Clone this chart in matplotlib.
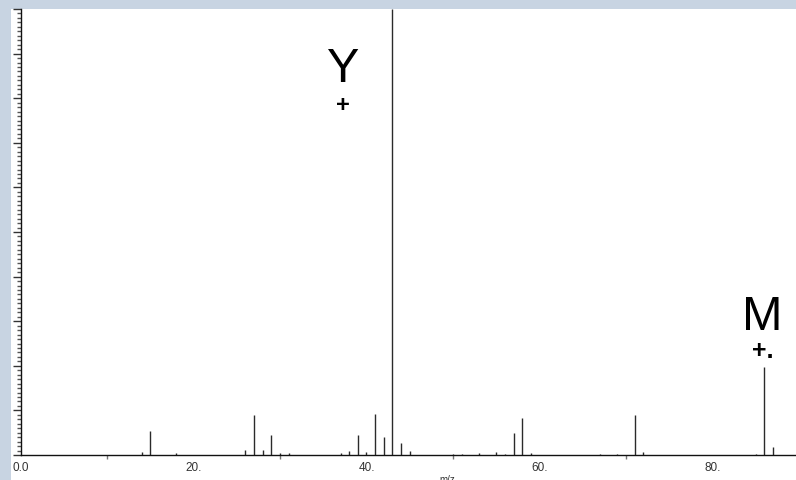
import matplotlib
matplotlib.use("Agg")
import matplotlib.pyplot as plt
from matplotlib.patches import Rectangle
from matplotlib.ticker import MultipleLocator, FixedLocator

plt.rcParams['font.family'] = ['Liberation Sans', 'DejaVu Sans']

# m/z values and relative intensities (%)
mz = [14, 15, 18, 26, 27, 28, 29, 30, 31, 37, 38, 39, 40, 41, 42, 43, 44, 45,
      50, 51, 53, 55, 56, 57, 58, 59, 67, 69, 71, 72, 85, 86, 87]
intensity = [0.7, 5.4, 0.5, 1.1, 9.0, 1.1, 4.5, 0.4, 0.4, 0.5, 0.9, 4.5, 0.7, 9.2,
             4.0, 100.0, 2.7, 0.9, 0.3, 0.3, 0.4, 0.7, 0.3, 4.9, 8.3, 0.4, 0.3, 0.3,
             9.0, 0.7, 0.3, 19.7, 1.8]
major_ticks = [0, 20, 40, 60, 80]
major_labels = ["0.0", "20.", "40.", "60.", "80."]
minor_ticks = [10, 30, 50, 70]

W, H = 796, 481
fig = plt.figure(figsize=(W / 100, H / 100), dpi=100)
fig.patch.set_facecolor('#c8d4e2')

bg = fig.add_axes([11 / W, 0, 1 - 11 / W, 1 - 10 / H], zorder=-5)
bg.set_axis_off()
bg.add_patch(Rectangle((0, 0), 1, 1, transform=bg.transAxes, facecolor='white',
                       edgecolor='none'))

ax = fig.add_axes([20.5 / W, (H - 456) / H, (W - 20.5) / W, (456 - 10) / H], zorder=1)
ax.set_facecolor('none')
ax.set_xlim(0, (W - 20.5) / 8.65)
ax.set_ylim(0, 100)

ax.vlines(mz, 0, intensity, colors='#2a2a2a', linewidth=1.0)

for s in ['top', 'right']:
    ax.spines[s].set_visible(False)
ax.spines['left'].set_color('#111111')
ax.spines['bottom'].set_color('#111111')
ax.spines['left'].set_linewidth(1.0)
ax.spines['bottom'].set_linewidth(1.0)

ax.yaxis.set_major_locator(MultipleLocator(10))
ax.yaxis.set_minor_locator(MultipleLocator(1))
ax.tick_params(axis='y', which='major', length=6, width=1, color='#333333', labelleft=False)
ax.tick_params(axis='y', which='minor', length=3, width=1, color='#555555')

ax.xaxis.set_major_locator(FixedLocator(major_ticks))
ax.set_xticklabels(major_labels)
ax.xaxis.set_minor_locator(FixedLocator(minor_ticks))
ax.tick_params(axis='x', which='major', length=0, pad=4, labelsize=8.5, labelcolor='#333333')
ax.tick_params(axis='x', which='minor', length=3, width=1, color='#777777')

ax.text(0.55, -0.043, 'm/z', transform=ax.transAxes, ha='center', va='top',
        fontsize=7, color='#333333', clip_on=False)

ax.text(37.3, 83.8, 'Y', ha='center', va='baseline', fontsize=35, color='black')
ax.text(37.3, 78.6, '+', ha='center', va='center', fontsize=17, fontweight='bold', color='black')
ax.text(85.8, 28.3, 'M', ha='center', va='baseline', fontsize=35, color='black')
ax.text(85.8, 23.5, '+.', ha='center', va='center', fontsize=18, fontweight='bold', color='black')

fig.savefig('out.png', dpi=100, facecolor=fig.get_facecolor())
